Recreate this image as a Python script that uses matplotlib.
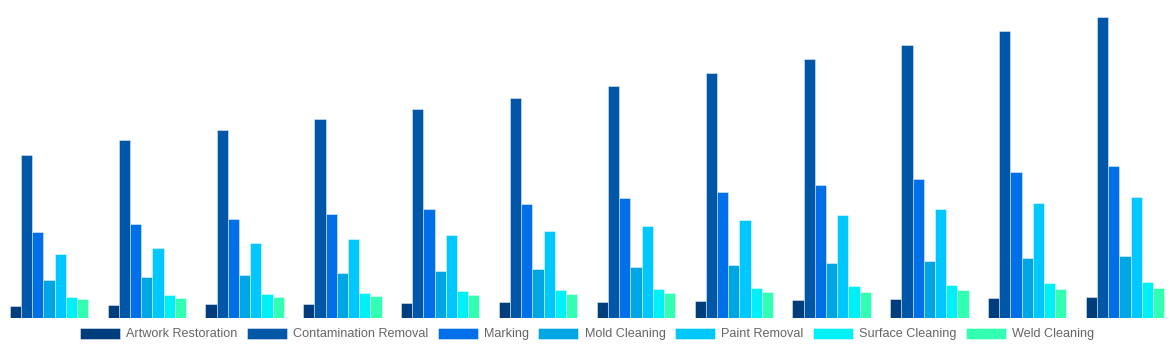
import numpy as np
import matplotlib.pyplot as plt

# series names and colours
series = ["Artwork Restoration", "Contamination Removal", "Marking", "Mold Cleaning",
          "Paint Removal", "Surface Cleaning", "Weld Cleaning"]
colors = ["#003d7c", "#0057a8", "#006fe8", "#00a5e3", "#00c8ff", "#00f0f8", "#33ffb3"]

# values (12 groups)
artwork = [12, 13, 14, 14, 15, 16, 16, 17, 18, 19, 20, 21]
contamination = [163, 178, 188, 199, 209, 220, 232, 245, 259, 273, 287, 301]
marking = [86, 94, 99, 104, 109, 114, 120, 126, 133, 139, 146, 152]
mold = [38, 41, 43, 45, 47, 49, 51, 53, 55, 57, 60, 62]
paint = [64, 70, 75, 79, 83, 87, 92, 98, 103, 109, 115, 121]
surface = [21, 23, 24, 25, 27, 28, 29, 30, 32, 33, 35, 36]
weld = [19, 20, 21, 22, 23, 24, 25, 26, 26, 28, 29, 30]

data = [artwork, contamination, marking, mold, paint, surface, weld]

plt.rcParams['font.family'] = ['Liberation Sans', 'DejaVu Sans']

fig = plt.figure(figsize=(11.74, 3.5), dpi=100)
ax = fig.add_axes([0, 32 / 350, 1, 301 / 350])

x = np.arange(len(artwork))
w = 0.8 / len(series)
for i, (name, vals) in enumerate(zip(series, data)):
    ax.bar(x - 0.4 + w * (i + 0.5), vals, width=w, color=colors[i], label=name,
           edgecolor=(1, 1, 1, 0.5), linewidth=0.6)

ax.set_xlim(-0.5, len(artwork) - 0.5)
ax.set_ylim(0, 301)
ax.axis("off")

# legend along the bottom
fig.legend(loc="center", bbox_to_anchor=(0.5, 1 - 334 / 350), ncol=7, frameon=False,
           fontsize=9.1, labelcolor="#666666", handlelength=3.15, handleheight=0.95,
           handletextpad=0.5, columnspacing=0.75)

fig.savefig("out.png", dpi=100)
